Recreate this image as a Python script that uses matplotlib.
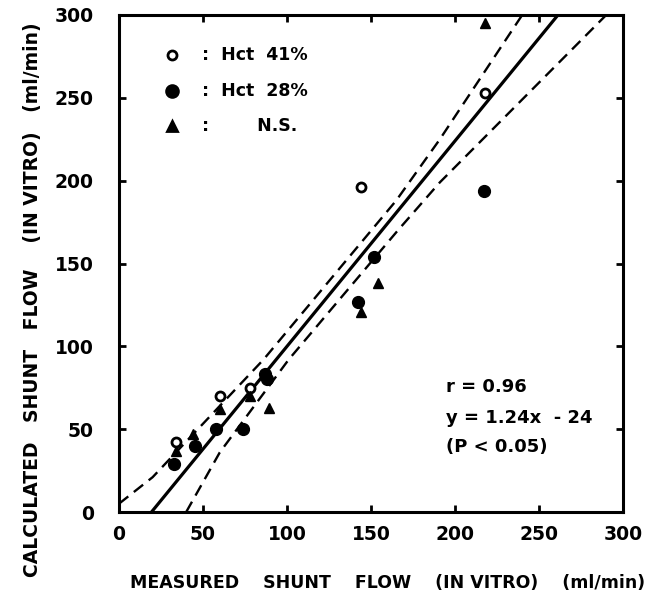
import matplotlib
matplotlib.use("Agg")
import matplotlib.pyplot as plt

# ----------------------------------------------------------------------
# data
# ----------------------------------------------------------------------
hct41_x = [34, 60, 78, 144, 218]
hct41_y = [42, 70, 75, 196, 253]

hct28_x = [33, 45, 58, 74, 87, 88, 152, 142, 217]
hct28_y = [29, 40, 50, 50, 83, 80, 154, 127, 194]

ns_x = [34, 44, 60, 78, 89, 144, 154, 218]
ns_y = [37, 47, 62, 70, 63, 121, 138, 295]

# regression y = 1.24x - 24
slope, intercept = 1.24, -24
fit_x = [0, 300]

# hand drawn confidence limits
upper_x = [0, 20, 86, 165, 191, 240]
upper_y = [5, 21, 92, 188, 225, 300]
lower_x = [40, 60, 101, 166, 191, 290]
lower_y = [0, 36, 92, 170, 199, 300]

ticks = [0, 50, 100, 150, 200, 250, 300]

# ----------------------------------------------------------------------
# figure
# ----------------------------------------------------------------------
plt.rcParams['font.family'] = ['DejaVu Sans']
plt.rcParams['font.weight'] = 'bold'

fig = plt.figure(figsize=(6.65, 6.02), dpi=100)
W, H = 665, 602
L, R, B, T = 119, 623, 512, 15
ax = fig.add_axes([L / W, 1 - B / H, (R - L) / W, (B - T) / H])

ax.plot(fit_x, [slope * v + intercept for v in fit_x], color='black', lw=2.3)
ax.plot(upper_x, upper_y, color='black', lw=1.7, dashes=(5, 3))
ax.plot(lower_x, lower_y, color='black', lw=1.7, dashes=(5, 3))

ax.plot(hct41_x, hct41_y, 'o', ms=6.5, mfc='white', mec='black', mew=2, ls='none')
ax.plot(hct28_x, hct28_y, 'o', ms=8.5, color='black', ls='none')
ax.plot(ns_x, ns_y, '^', ms=7.5, color='black', ls='none')

ax.set_xlim(0, 300)
ax.set_ylim(0, 300)
ax.set_xticks(ticks)
ax.set_yticks(ticks)
ax.set_xticklabels([str(t) for t in ticks], fontsize=13.5, fontweight='bold')
ax.set_yticklabels([str(t) for t in ticks], fontsize=13.5, fontweight='bold')
ax.tick_params(direction='in', length=5, width=2, top=True, right=True)
ax.tick_params(axis='x', pad=9)
ax.tick_params(axis='y', pad=18)
for s in ax.spines.values():
    s.set_linewidth(2.2)

# legend drawn by hand, like the original
def axpos(px, py):
    return (px - L) / (R - L), (B - py) / (B - T)

rows = [(55, 'o', 'white', 6.5, ':  Hct  41%'),
        (91, 'o', 'black', 8.5, ':  Hct  28%'),
        (126, '^', 'black', 7.5, ':        N.S.')]
for py, m, fc, ms, label in rows:
    x0, y0 = axpos(172, py)
    ax.plot([x0], [y0], m, ms=ms, mfc=fc, mec='black', mew=2,
            transform=ax.transAxes, clip_on=False)
    x1, _ = axpos(202, py)
    ax.text(x1, y0, label, transform=ax.transAxes, fontsize=12.5,
            fontweight='bold', va='center', ha='left')

stats = ['r = 0.96', 'y = 1.24x  - 24', '(P < 0.05)']
for py, s in zip([387, 418, 447], stats):
    x0, y0 = axpos(446, py)
    ax.text(x0, y0, s, transform=ax.transAxes, fontsize=13,
            fontweight='bold', va='center', ha='left')

fig.text(388 / W, 1 - 583 / H, 'MEASURED    SHUNT    FLOW    (IN VITRO)    (ml/min)',
         fontsize=12.5, fontweight='bold', ha='center', va='center')
fig.text(33 / W, 1 - 300 / H, 'CALCULATED   SHUNT   FLOW    (IN VITRO)   (ml/min)',
         fontsize=13.5, fontweight='bold', ha='center', va='center', rotation=90)

fig.savefig('out.png', dpi=100)
